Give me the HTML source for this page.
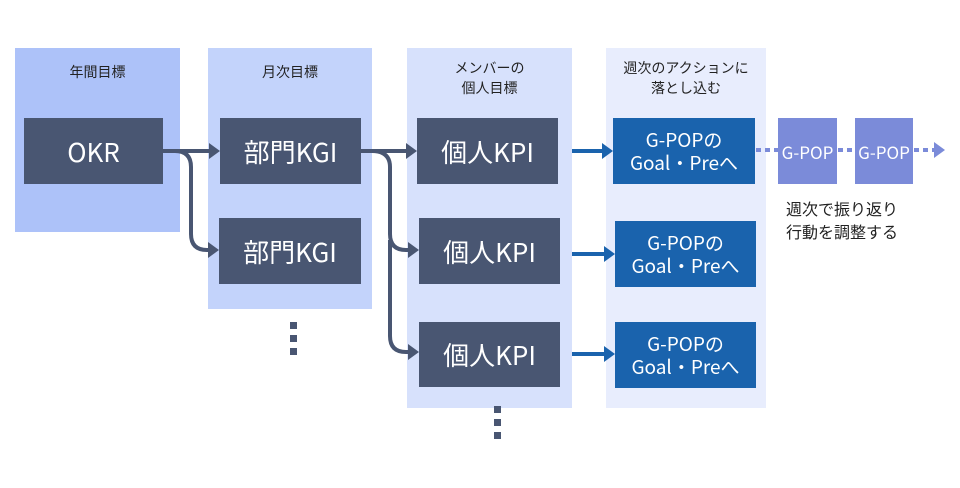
<!DOCTYPE html>
<html><head><meta charset="utf-8"><style>
body{margin:0;width:960px;height:488px;background:#fff;position:relative;overflow:hidden;font-family:"Liberation Sans","Noto Sans CJK JP",sans-serif}
.a{position:absolute;box-sizing:border-box}
.p{text-align:center;font-size:14px;color:#222;line-height:20px;padding-top:14px}
.b{background:#495672;color:#fff;font-size:26px;display:flex;align-items:center;justify-content:center;font-family:"Noto Sans CJK JP",sans-serif}
.g{background:#1a63ad;color:#fff;font-size:19px;line-height:23px;display:flex;align-items:center;justify-content:center;text-align:center;font-family:"Noto Sans CJK JP",sans-serif}
.s{background:#7b8bd9;color:#fff;font-size:17px;display:flex;align-items:center;justify-content:center;font-family:"Noto Sans CJK JP",sans-serif}
</style></head><body>
<div class="a p" style="left:15px;top:48px;width:165px;height:184px;background:#adc2f9">年間目標</div>
<div class="a p" style="left:208px;top:48px;width:164px;height:261px;background:#c3d3fb">月次目標</div>
<div class="a p" style="left:407px;top:48px;width:165px;height:360px;background:#d7e1fc;padding-top:10px">メンバーの<br>個人目標</div>
<div class="a p" style="left:606px;top:48px;width:160px;height:360px;background:#e8edfd;padding-top:10px">週次のアクションに<br>落とし込む</div>
<div class="a b" style="left:24px;top:118px;width:139px;height:66px">OKR</div>
<div class="a b" style="left:220px;top:118px;width:141px;height:66px">部門KGI</div>
<div class="a b" style="left:219px;top:218px;width:142px;height:66px">部門KGI</div>
<div class="a b" style="left:417px;top:118px;width:141px;height:66px">個人KPI</div>
<div class="a b" style="left:419px;top:218px;width:141px;height:66px">個人KPI</div>
<div class="a b" style="left:419px;top:322px;width:141px;height:65px">個人KPI</div>
<div class="a g" style="left:613px;top:118px;width:142px;height:66px">G-POPの<br>Goal・Preへ</div>
<div class="a g" style="left:615px;top:221px;width:141px;height:66px">G-POPの<br>Goal・Preへ</div>
<div class="a g" style="left:615px;top:322px;width:141px;height:66px">G-POPの<br>Goal・Preへ</div>
<div class="a s" style="left:778px;top:118px;width:59px;height:66px">G-POP</div>
<div class="a s" style="left:855px;top:118px;width:58px;height:66px">G-POP</div>
<div class="a" style="left:786px;top:199px;font-size:16px;line-height:23px;color:#222">週次で振り返り<br>行動を調整する</div>
<svg class="a" style="left:0;top:0" width="960" height="488">
<g fill="none" stroke="#495672" stroke-width="4">
<path d="M163 151H210"/><path d="M175 151Q191 151 191 167V234Q191 250 207 250H210"/>
<path d="M361 151H407"/><path d="M372 151Q390 151 390 167V234Q390 250 406 250H409"/>
<path d="M390 240V336Q390 352 406 352H409"/>
</g>
<g fill="#495672">
<path d="M220 151l-11-8v16z"/><path d="M219 250l-11-8v16z"/>
<path d="M417 151l-11-8v16z"/><path d="M419 250l-11-8v16z"/><path d="M419 352l-11-8v16z"/>
<rect x="290" y="322" width="7" height="7"/><rect x="290" y="335" width="7" height="7"/><rect x="290" y="348" width="7" height="7"/>
<rect x="494" y="406" width="7" height="7"/><rect x="494" y="419" width="7" height="7"/><rect x="494" y="432" width="7" height="7"/>
</g>
<g stroke="#1a63ad" stroke-width="4"><path d="M572 151H603"/><path d="M572 254H605"/><path d="M572 354H605"/></g>
<g fill="#1a63ad"><path d="M613 151l-11-8v16z"/><path d="M615 254l-11-8v16z"/><path d="M615 354l-11-8v16z"/></g>
<g stroke="#7b8bd9" stroke-width="4" stroke-dasharray="5 4"><path d="M756 150H778"/><path d="M838 150H855"/><path d="M914 150H935"/></g>
<path d="M945 150l-11-8v16z" fill="#7b8bd9"/>
</svg>
</body></html>
